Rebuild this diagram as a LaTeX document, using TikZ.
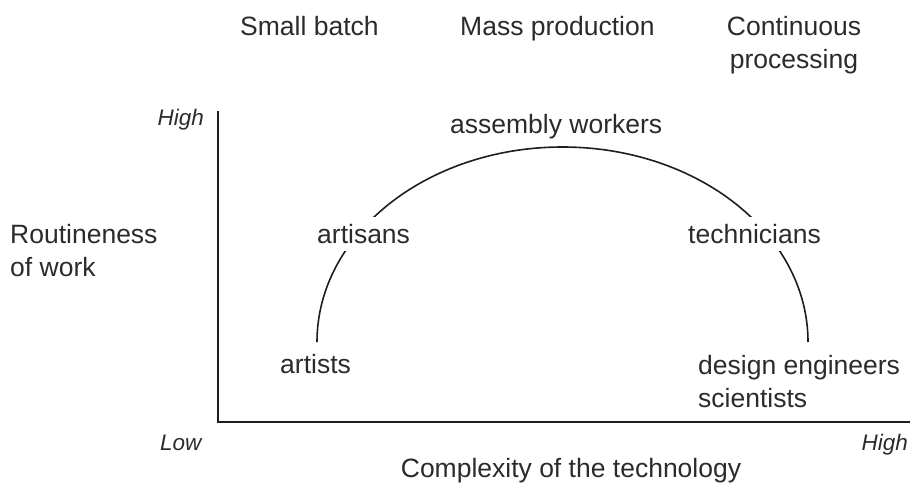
\documentclass[tikz,border=0pt]{standalone}
\usepackage{fontspec}
\setmainfont{Liberation Sans}
\definecolor{ink}{HTML}{2B2B2B}
\definecolor{linec}{HTML}{1E1E1E}
\begin{document}
\begin{tikzpicture}[x=1pt,y=-1pt,
  lbl/.style={font=\fontsize{26.5}{33}\selectfont, text=ink, inner sep=0pt},
  onarc/.style={lbl, fill=white, text height=22pt, text depth=4pt, inner ysep=4pt, inner xsep=0pt},
  axlbl/.style={font=\fontsize{22.5}{27}\selectfont\itshape, text=ink, inner sep=0pt},
  axis/.style={draw=linec, line width=1.7pt},
  curve/.style={draw=linec, line width=1.6pt}]
\useasboundingbox (0,0) rectangle (910,488);
% axes
\coordinate (top) at (218,111);
\coordinate (origin) at (218,422);
\coordinate (right) at (910,422);
\draw[axis] (top) -- (origin) -- (right);
% arc
\coordinate (arcstart) at (317,342);
\draw[curve] (arcstart) arc[start angle=180, end angle=0, x radius=245.5pt, y radius=195pt] coordinate (arcend);
% labels on the arc
\node[onarc, anchor=base west] (artisans) at (317,243) {artisans};
\node[onarc, anchor=base west] (technicians) at (688,243) {technicians};
\node[lbl, anchor=base west] (assembly) at (450,133) {assembly workers};
\node[lbl, anchor=base west] (artists) at (280,373) {artists};
\node[lbl, anchor=base west, align=left] (design) at (698,407) {design engineers\\scientists};
% top categories
\node[lbl, anchor=base west] (small) at (240,35) {Small batch};
\node[lbl, anchor=base west] (mass) at (460,35) {Mass production};
\node[lbl, anchor=base, align=center] (cont) at (794,68) {Continuous\\processing};
% axis titles
\node[lbl, anchor=base west, align=left] (routine) at (10,276) {Routineness\\of work};
\node[lbl, anchor=base] (complexity) at (571,477) {Complexity of the technology};
\node[axlbl, anchor=base east] (yhigh) at (204,125) {High};
\node[axlbl, anchor=base west] (xlow) at (160,450) {Low};
\node[axlbl, anchor=base east] (xhigh) at (908,450) {High};
\end{tikzpicture}
\end{document}
